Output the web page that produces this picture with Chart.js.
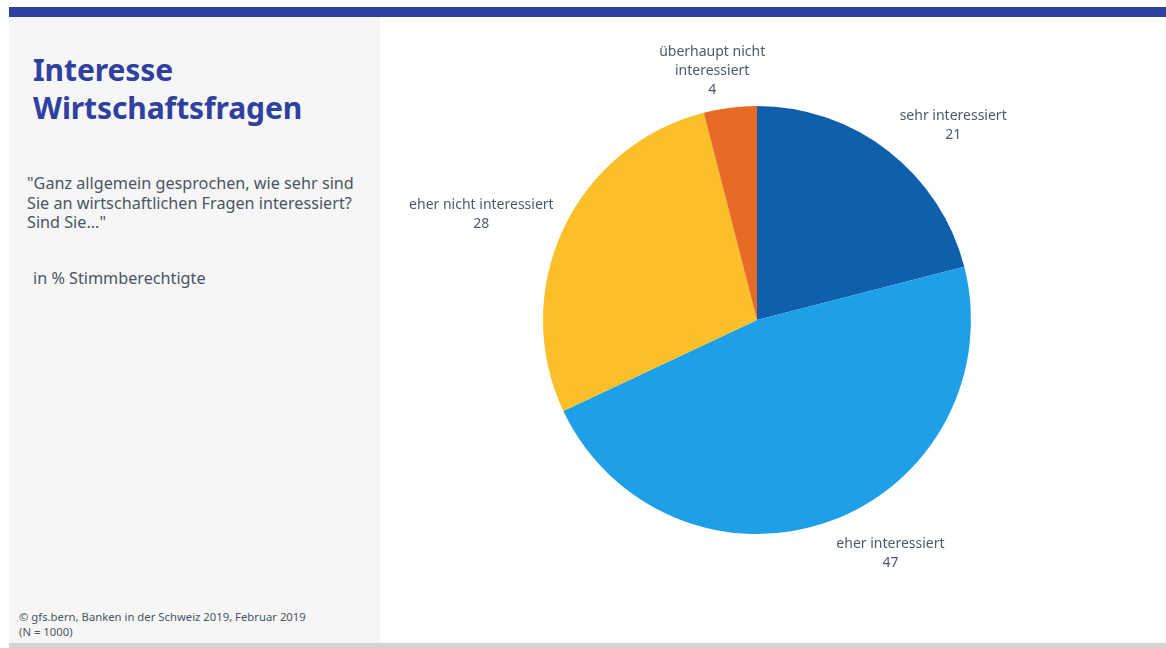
<!DOCTYPE html>
<html lang="de">
<head>
<meta charset="utf-8">
<title>Interesse Wirtschaftsfragen</title>
<script src="https://cdn.jsdelivr.net/npm/chart.js@4.4.1/dist/chart.umd.min.js"></script>
<style>
  html, body { margin: 0; padding: 0; background: #fff; }
  body { width: 1166px; height: 648px; position: relative; overflow: hidden; font-family: "Noto Sans", "Open Sans", sans-serif; }
  .topbar { position: absolute; left: 9px; top: 7px; width: 1157px; height: 10px; background: #30409f; }
  .side { position: absolute; left: 9px; top: 17px; width: 371px; height: 626px; background: #f6f6f6; }
  .bottombar { position: absolute; left: 9px; top: 643px; width: 1157px; height: 5px; background: #d4d4d4; }
  h1 { position: absolute; left: 33px; top: 51px; margin: 0; font-size: 30px; line-height: 38px; font-weight: 700; color: #30409f; letter-spacing: -0.1px; }
  .question { position: absolute; left: 27px; top: 174px; margin: 0; font-size: 16.2px; line-height: 19.5px; color: #4a5563; }
  .unit { position: absolute; left: 33px; top: 267px; margin: 0; font-size: 16.2px; color: #4a5563; }
  .source { position: absolute; left: 19px; top: 609px; margin: 0; font-size: 11.3px; line-height: 15px; color: #4a5563; }
  .chartBox { position: absolute; left: 380px; top: 17px; width: 754px; height: 606px; }
</style>
</head>
<body>
<div class="topbar"></div>
<div class="side"></div>
<div class="bottombar"></div>
<h1>Interesse<br>Wirtschaftsfragen</h1>
<p class="question">"Ganz allgemein gesprochen, wie sehr sind<br>Sie an wirtschaftlichen Fragen interessiert?<br>Sind Sie..."</p>
<p class="unit">in % Stimmberechtigte</p>
<p class="source">© gfs.bern, Banken in der Schweiz 2019, Februar 2019<br>(N = 1000)</p>
<div class="chartBox"><canvas id="pieChart"></canvas></div>

<script>
// Antwortkategorien und Anteile in %
const categories = [
  ["sehr interessiert"],
  ["eher interessiert"],
  ["eher nicht interessiert"],
  ["überhaupt nicht", "interessiert"]
];
const shares = [21, 47, 28, 4];
const sliceColors = ["#0f5fad", "#1ea0e8", "#fbbf2a", "#e86b25"];

// label shift from the slice edge point (px)
const labelShift = [[65, -35], [61, 23], [-82, -24], [-18, -56]];

// ================= LABELS =================
const outsideLabels = {
  id: "outsideLabels",
  afterDatasetsDraw(chart) {
    const ctx = chart.ctx;
    const meta = chart.getDatasetMeta(0);
    ctx.save();
    ctx.font = "14px 'Noto Sans', sans-serif";
    ctx.fillStyle = "#4b5a6a";
    ctx.textAlign = "center";
    ctx.textBaseline = "middle";
    meta.data.forEach((arc, i) => {
      const p = arc.getProps(["x", "y", "startAngle", "endAngle", "outerRadius"], true);
      const mid = (p.startAngle + p.endAngle) / 2;
      const x = p.x + Math.cos(mid) * p.outerRadius + labelShift[i][0];
      const y = p.y + Math.sin(mid) * p.outerRadius + labelShift[i][1];
      const lines = categories[i].concat(String(shares[i]));
      lines.forEach((line, k) => ctx.fillText(line, x, y + k * 19));
    });
    ctx.restore();
  }
};

// ================= CHART =================
new Chart(document.getElementById("pieChart"), {
  type: "pie",
  data: {
    labels: categories.map(c => c.join(" ")),
    datasets: [{
      data: shares,
      backgroundColor: sliceColors,
      borderWidth: 0
    }]
  },
  options: {
    responsive: true,
    maintainAspectRatio: false,
    animation: false,
    layout: { padding: { top: 89, bottom: 89 } },
    plugins: {
      legend: { display: false },
      tooltip: { enabled: false }
    }
  },
  plugins: [outsideLabels]
});
</script>
</body>
</html>
